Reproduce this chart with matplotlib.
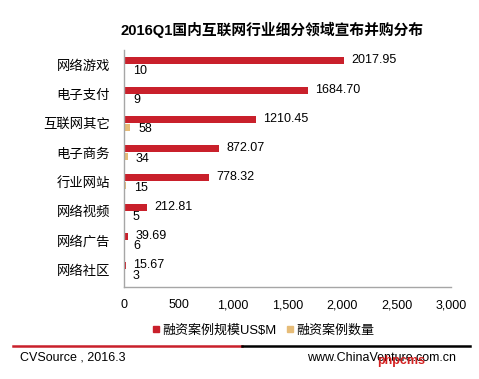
import matplotlib
matplotlib.use("Agg")
import matplotlib.pyplot as plt
from matplotlib.lines import Line2D

plt.rcParams['font.family'] = ['Liberation Sans', 'Noto Sans CJK SC']

categories = ["网络游戏", "电子支付", "互联网其它", "电子商务", "行业网站", "网络视频", "网络广告", "网络社区"]
amount = [2017.95, 1684.70, 1210.45, 872.07, 778.32, 212.81, 39.69, 15.67]
count = [10, 9, 58, 34, 15, 5, 6, 3]
xticks = [0, 500, 1000, 1500, 2000, 2500, 3000]

red = "#C9202B"
tan = "#E6BC78"

fig = plt.figure(figsize=(4.79, 3.79), dpi=100)
ax = fig.add_axes([0.259, 0.243, 0.683, 0.625])

y = list(range(len(categories)))
h = 0.24
ax.barh([v - 0.14 for v in y], amount, height=h, color=red)
ax.barh([v + 0.13 for v in y], count, height=h, color=tan)

for i in y:
    ax.text(amount[i] + 65, i - 0.16, f"{amount[i]:.2f}", va="center", ha="left", fontsize=9)
    ax.text(count[i] + 75, i + 0.2, str(count[i]), va="center", ha="left", fontsize=9)

ax.set_ylim(7.58, -0.51)
ax.set_xlim(0, 3000)
ax.set_yticks(y)
ax.set_yticklabels(categories, fontsize=9.6)
ax.set_xticks(xticks)
ax.set_xticklabels([f"{t:,}" for t in xticks], fontsize=9)
ax.tick_params(length=0)
ax.tick_params(axis="y", pad=10)
ax.tick_params(axis="x", pad=9)
for s in ["top", "right"]:
    ax.spines[s].set_visible(False)
for s in ["left", "bottom"]:
    ax.spines[s].set_color("#A6A6A6")
    ax.spines[s].set_linewidth(1)

fig.text(0.568, 0.92, "2016Q1国内互联网行业细分领域宣布并购分布", ha="center", va="center",
         fontsize=10.6, fontweight="bold")

handles = [Line2D([], [], marker="s", ls="", color=red, markersize=4),
           Line2D([], [], marker="s", ls="", color=tan, markersize=4)]
fig.legend(handles, ["融资案例规模US$M", "融资案例数量"], loc="center", bbox_to_anchor=(0.548, 0.127),
           ncol=2, frameon=False, fontsize=9.4, handletextpad=0.1, columnspacing=0.6, handlelength=0.8)

fig.add_artist(Line2D([13/479, 242/479], [1 - 346/379] * 2, color=red, lw=1.8))
fig.add_artist(Line2D([242/479, 470/479], [1 - 346/379] * 2, color="black", lw=1.8))

fig.text(20/479, 1 - 358/379, "CVSource , 2016.3", ha="left", va="center", fontsize=9)
fig.text(456/479, 1 - 358/379, "www.ChinaVenture.com.cn", ha="right", va="center", fontsize=9)
fig.text(425/479, 1 - 361/379, "phpcms", ha="right", va="center", fontsize=9,
         color="#D42020", fontweight="bold")

fig.savefig("out.png", dpi=100)
